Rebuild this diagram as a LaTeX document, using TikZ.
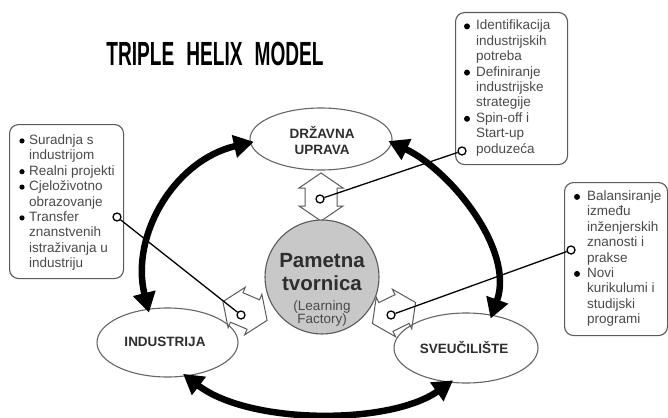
\documentclass[tikz,border=0pt]{standalone}
\usepackage{fontspec}
\setmainfont{Liberation Sans}
\usetikzlibrary{arrows.meta,shapes.geometric}
\definecolor{boxgray}{HTML}{5A5A5A}
\definecolor{txtgray}{HTML}{4A4A4A}
\definecolor{lblgray}{HTML}{2E2E2E}
\definecolor{ellgray}{HTML}{666666}
\definecolor{circfill}{HTML}{C8C8C8}
\begin{document}
\begin{tikzpicture}[x=1pt,y=-1pt,
  infobox/.style={draw=boxgray, line width=1.1pt, rounded corners=9pt, fill=white,
    inner sep=0pt, anchor=north west},
  boxtext/.style={anchor=base west, inner sep=0pt, text=txtgray,
    font=\fontsize{13.5}{15.4}\selectfont},
  ell/.style={ellipse, draw=ellgray, line width=1.1pt, inner sep=0pt},
  elltext/.style={anchor=base, inner sep=0pt, text=lblgray,
    font=\fontsize{13.5}{13.5}\selectfont\bfseries},
  blockarr/.style={draw=boxgray, fill=white, line width=1pt, line join=miter},
  dblarrow/.pic={\draw[blockarr] (-24,0) -- (-9,-22) -- (-9,-16) -- (9,-16) -- (9,-22)
     -- (24,0) -- (9,22) -- (9,16) -- (-9,16) -- (-9,22) -- cycle;},
  helix/.style={draw=black, line width=6.5pt,
    {Triangle[length=20pt,width=22pt]}-{Triangle[length=20pt,width=22pt]},
    shorten <=-4pt, shorten >=-4pt},
  marker/.style={circle, draw=black, fill=white, line width=1.3pt, inner sep=0pt,
    minimum size=8pt},
  link/.style={draw=black, line width=1.3pt},
  bulletdot/.style={fill=black}
]
\useasboundingbox (0,0) rectangle (668,417);
\fill[white] (0,0) rectangle (668,417);

% title
\node[anchor=base, inner sep=0pt] (title) at (215,65.5)
  {\scalebox{0.57}[1]{\fontsize{33.5}{33.5}\selectfont\bfseries TRIPLE\hspace{0.63em}HELIX\hspace{0.63em}MODEL}};

% info boxes
\node[infobox, minimum width=112pt, minimum height=152pt] (boxtop) at (455,12) {};
\node[infobox, minimum width=114pt, minimum height=154pt] (boxleft) at (9,124) {};
\node[infobox, minimum width=103pt, minimum height=153pt] (boxright) at (564,182) {};

\node[boxtext] (ttop) at (476,30) {\begin{tabular}[t]{@{}l@{}}Identifikacija\\industrijskih\\potreba\\Definiranje\\industrijske\\strategije\\Spin-off i\\Start-up\\poduzeća\end{tabular}};
\node[boxtext] (tleft) at (29,144.5) {\begin{tabular}[t]{@{}l@{}}Suradnja s\\industrijom\\Realni projekti\\Cjeloživotno\\obrazovanje\\Transfer\\znanstvenih\\istraživanja u\\industriju\end{tabular}};
\node[boxtext] (tright) at (587,200.5) {\begin{tabular}[t]{@{}l@{}}Balansiranje\\između\\inženjerskih\\znanosti i\\prakse\\Novi\\kurikulumi i\\studijski\\programi\end{tabular}};

% bullets
\foreach \yy in {30,76.2,122.4} \fill[bulletdot] (467,\yy-3.6) circle (3pt);
\foreach \yy in {144.5,175.3,190.7,221.5} \fill[bulletdot] (22,\yy-3.6) circle (2.6pt);
\foreach \yy in {200.5,277.5} \fill[bulletdot] (577,\yy-3.6) circle (3pt);

% block double arrows
\pic at (321,197) [rotate=90] {dblarrow};
\pic at (245,311) [rotate=-23] {dblarrow};
\pic at (394,313) [rotate=26] {dblarrow};

% central circle
\node[circle, draw=boxgray, fill=circfill, line width=1.1pt, minimum size=114pt, inner sep=0pt] (pt) at (322,277) {};
\node[anchor=base, inner sep=0pt, text=lblgray, font=\fontsize{20.5}{20.5}\selectfont\bfseries] (pam) at (322,267) {Pametna};
\node[anchor=base, inner sep=0pt, text=lblgray, font=\fontsize{20.5}{20.5}\selectfont\bfseries] (tvo) at (322,290) {tvornica};
\node[anchor=base, inner sep=0pt, text=txtgray, font=\fontsize{13.5}{13.5}\selectfont] (lea) at (322,310) {(Learning};
\node[anchor=base, inner sep=0pt, text=txtgray, font=\fontsize{13.5}{13.5}\selectfont] (fac) at (322,323.5) {Factory)};

% ellipses
\node[ell, minimum width=142pt, minimum height=62pt] (drz) at (321,139) {};
\node[ell, minimum width=141pt, minimum height=69pt] (ind) at (167.5,342.5) {};
\node[ell, minimum width=144pt, minimum height=70pt] (sve) at (466,348) {};
\node[elltext] (drzA) at (322,138) {DRŽAVNA};
\node[elltext] (drzB) at (322,154) {UPRAVA};
\node[elltext] (indt) at (165,346.5) {INDUSTRIJA};
\node[elltext] (svet) at (464,353) {SVEUČILIŠTE};

% helix arrows
\draw[helix] (ind.120) .. controls (130,235) and (175,160) .. (drz.183);
\draw[helix] (sve.52) .. controls (515,250) and (450,170) .. (drz.-3);
\draw[helix] (ind.-61) .. controls (250,425) and (390,425) .. (sve.-115);

% markers and links
\node[marker] (mtop) at (320,199) {};
\node[marker] (mleft) at (241,315) {};
\node[marker] (mright) at (391,315) {};
\node[marker] (btop) at (462,151) {};
\node[marker] (bleft) at (117,217) {};
\node[marker] (bright) at (571,250) {};
\draw[link] (btop) -- (mtop);
\draw[link] (bleft) -- (mleft);
\draw[link] (bright) -- (mright);
\end{tikzpicture}
\end{document}
